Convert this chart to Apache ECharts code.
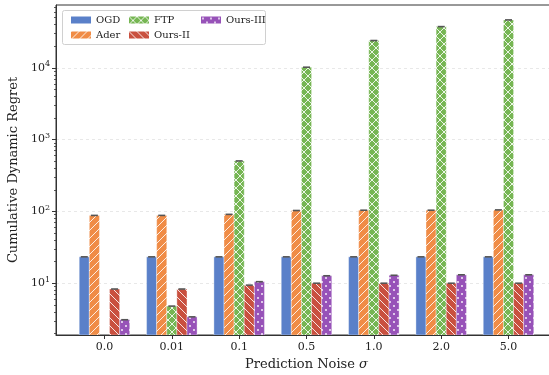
<!DOCTYPE html>
<html><head><meta charset="utf-8">
<script src="https://cdn.jsdelivr.net/npm/echarts@6/dist/echarts.min.js"></script>
<style>html,body{margin:0;padding:0;background:#fff}#c{width:549px;height:375px}</style>
</head><body><div id="c"></div>
<script>
const categories = ['0.0', '0.01', '0.1', '0.5', '1.0', '2.0', '5.0'];
const seriesNames = ['OGD', 'Ader', 'FTP', 'Ours-II', 'Ours-III'];
const ogd = [23.3, 23.3, 23.3, 23.3, 23.3, 23.3, 23.3];
const ader = [88, 88, 91, 103, 104, 104, 105];
const ftp = [null, 4.8, 505, 10200, 24000, 37500, 46500];
const oursII = [8.3, 8.3, 9.4, 10, 10, 10, 10];
const oursIII = [3.1, 3.4, 10.5, 12.7, 12.9, 13.1, 13.1];
const yMajorTicks = [10, 100, 1000, 10000];

const FONT = 'DejaVu Serif';
const colors = ['#5a80c9', '#f08c46', '#76b653', '#c9503f', '#9752b8'];
const hatches = ['', '/', 'x', '\\', '.'];

function makePattern(color, hatch) {
  const s = 8;
  const c = document.createElement('canvas');
  c.width = s; c.height = s;
  const g = c.getContext('2d');
  g.fillStyle = color; g.fillRect(0, 0, s, s);
  g.strokeStyle = 'rgba(255,255,255,0.85)';
  g.fillStyle = 'rgba(255,255,255,0.9)';
  g.lineWidth = 1;
  const line = (x1, y1, x2, y2) => { g.beginPath(); g.moveTo(x1, y1); g.lineTo(x2, y2); g.stroke(); };
  if (hatch === '/' || hatch === 'x') {
    line(-1, s + 1, s + 1, -1);
    line(-1 - s, s + 1, 1, -1);
    line(s - 1, s + 1, 2 * s + 1, -1);
  }
  if (hatch === '\\' || hatch === 'x') {
    line(-1, -1, s + 1, s + 1);
    line(-1 - s, -1, 1, s + 1);
    line(s - 1, -1, 2 * s + 1, s + 1);
  }
  if (hatch === '.') {
    g.beginPath(); g.arc(2, 2, 1.0, 0, Math.PI * 2); g.fill();
    g.beginPath(); g.arc(6, 6, 1.0, 0, Math.PI * 2); g.fill();
  }
  if (!hatch) return color;
  return { image: c, repeat: 'repeat' };
}
const fills = colors.map((c, i) => makePattern(c, hatches[i]));
const allValues = [ogd, ader, ftp, oursII, oursIII];
const barW = 0.15;
const offsets = [-0.3, -0.15, 0, 0.15, 0.3];

const series = seriesNames.map((name, si) => ({
  name,
  type: 'custom',
  clip: true,
  itemStyle: { color: fills[si] },
  data: allValues[si].map((v, i) => v == null ? null : [i, v]).filter(d => d),
  renderItem: function (params, api) {
    const x = api.value(0) + offsets[si];
    const v = api.value(1);
    const l = api.coord([x - barW / 2, v]);
    const r = api.coord([x + barW / 2, v]);
    const cs = params.coordSys;
    const bottom = cs.y + cs.height;
    const cx = (l[0] + r[0]) / 2;
    return {
      type: 'group',
      children: [
        { type: 'rect', shape: { x: l[0], y: l[1], width: r[0] - l[0], height: bottom - l[1] },
          style: { fill: fills[si], stroke: 'rgba(255,255,255,0.6)', lineWidth: 0.6 } },
        { type: 'line', shape: { x1: cx - 3.5, y1: l[1], x2: cx + 3.5, y2: l[1] },
          style: { stroke: '#555', lineWidth: 1.6 } }
      ]
    };
  }
}));

const legendCommon = {
  orient: 'vertical', icon: 'rect', itemWidth: 20, itemHeight: 7, itemGap: 3,
  textStyle: { fontFamily: FONT, fontSize: 10, color: '#222', lineHeight: 12 },
  top: 9, z: 10, selectedMode: false
};

const option = {
  animation: false,
  backgroundColor: '#fff',
  grid: { left: 56, width: 501, top: 5, bottom: 40, outerBoundsMode: 'none', containLabel: false, show: true, borderColor: '#333', borderWidth: 1, backgroundColor: 'transparent' },
  graphic: [{ type: 'rect', left: 62, top: 10, z: 9, shape: { width: 203, height: 34, r: 2 },
    style: { fill: 'rgba(255,255,255,0.85)', stroke: '#d0d0d0', lineWidth: 1 } }],
  legend: [
    Object.assign({}, legendCommon, { left: 66, data: ['OGD', 'Ader'] }),
    Object.assign({}, legendCommon, { left: 124, data: ['FTP', 'Ours-II'] }),
    Object.assign({}, legendCommon, { left: 196, data: ['Ours-III'] })
  ],
  xAxis: {
    type: 'value', min: -0.72, max: 6.72,
    name: 'Prediction Noise {i|σ}', nameLocation: 'middle', nameGap: 22,
    nameTextStyle: { fontFamily: FONT, fontSize: 13, color: '#222', rich: { i: { fontFamily: FONT, fontStyle: 'italic', fontSize: 13, color: '#222' } } },
    axisLine: { show: true, onZero: false, lineStyle: { color: '#333', width: 1 } },
    axisTick: { show: true, length: 4, customValues: [0, 1, 2, 3, 4, 5, 6], lineStyle: { color: '#333' } },
    axisLabel: { customValues: [0, 1, 2, 3, 4, 5, 6], formatter: v => categories[Math.round(v)], fontFamily: FONT, fontSize: 11, color: '#222', margin: 7 },
    splitLine: { show: false }
  },
  yAxis: [{
    type: 'log', logBase: 10, min: 1.9, max: 75000,
    name: 'Cumulative Dynamic Regret', nameLocation: 'middle', nameGap: 28,
    nameTextStyle: { fontFamily: FONT, fontSize: 13, color: '#222' },
    axisLine: { show: true, onZero: false, lineStyle: { color: '#333', width: 1 } },
    axisTick: { show: true, length: 4, customValues: yMajorTicks, lineStyle: { color: '#333' } },
    axisLabel: {
      customValues: yMajorTicks, margin: 6,
      formatter: v => '{b|10}{s|' + Math.round(Math.log10(v)) + '}',
      rich: { b: { fontFamily: FONT, fontSize: 11, color: '#222' }, s: { fontFamily: FONT, fontSize: 8, color: '#222', padding: [0, 0, 7, 0] } }
    },
    splitLine: { show: true, lineStyle: { color: '#e3e3e3', type: [3, 3], width: 0.8 } }
  }, {
    type: 'log', logBase: 10, min: 1.9, max: 75000, position: 'left',
    axisLine: { show: false, onZero: false },
    axisTick: { show: true, length: 2, customValues: [2,3,4,5,6,7,8,9,20,30,40,50,60,70,80,90,200,300,400,500,600,700,800,900,2000,3000,4000,5000,6000,7000,8000,9000,20000,30000,40000,50000,60000,70000], lineStyle: { color: '#333', width: 0.8 } },
    axisLabel: { show: false },
    splitLine: { show: false }
  }],
  series
};
const chart = echarts.init(document.getElementById('c'), null, { renderer: 'canvas' });
chart.setOption(option);
</script></body></html>
